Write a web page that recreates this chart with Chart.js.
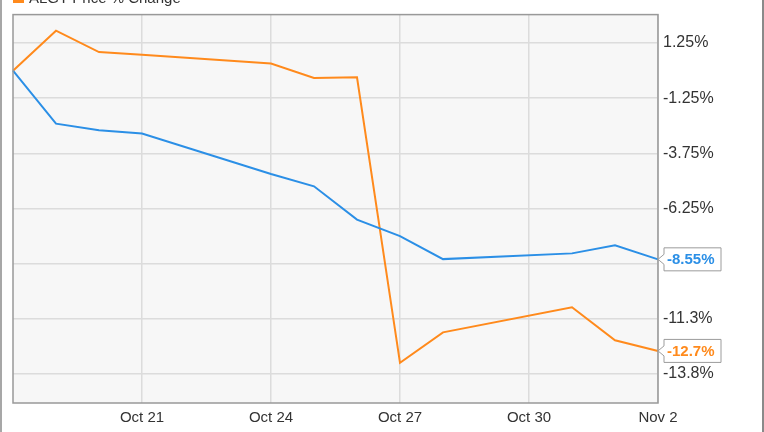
<!DOCTYPE html>
<html>
<head>
<meta charset="utf-8">
<script src="https://cdn.jsdelivr.net/npm/chart.js@4"></script>
<style>
html,body{margin:0;padding:0;background:#fff;}
canvas{display:block;}
</style>
</head>
<body>
<canvas id="c" width="764" height="432"></canvas>
<script>
// Calendar days on the x axis (weekends carry no value)
const dates = ['Oct 18','Oct 19','Oct 20','Oct 21','Oct 22','Oct 23','Oct 24','Oct 25','Oct 26','Oct 27','Oct 28','Oct 29','Oct 30','Oct 31','Nov 1','Nov 2'];
const xTickLabels = ['Oct 21','Oct 24','Oct 27','Oct 30','Nov 2'];

// % change series
const algtChange = [0, 1.81, 0.84, 0.72, null, null, 0.32, -0.33, -0.30, -13.24, -11.86, null, null, -10.72, -12.22, -12.70];
const peerChange = [0, -2.40, -2.70, -2.85, null, null, -4.68, -5.24, -6.75, -7.50, -8.54, null, null, -8.28, -7.91, -8.55];

// y axis ticks
const yTickValues = [1.25, -1.25, -3.75, -6.25, -8.75, -11.25, -13.75];
const yTickLabels = ['1.25%', '-1.25%', '-3.75%', '-6.25%', '', '-11.3%', '-13.8%'];
const lastLabels = ['-8.55%', '-12.7%'];

const legendText = 'ALGT Price % Change';
const BLUE = '#2b8fe6';
const ORANGE = '#ff8a1c';
const FONT = "'Liberation Sans', Arial, sans-serif";

const deco = {
  id: 'deco',
  beforeDraw(chart) {
    const {ctx, chartArea: a} = chart;
    ctx.save();
    ctx.fillStyle = '#f7f7f7';
    ctx.fillRect(a.left, a.top, a.right - a.left, a.bottom - a.top);
    ctx.restore();
  },
  afterDraw(chart) {
    const {ctx, chartArea: a} = chart;
    const ys = chart.scales.y;
    ctx.save();
    // plot border
    ctx.strokeStyle = '#999';
    ctx.lineWidth = 1.5;
    ctx.strokeRect(a.left, a.top, a.right - a.left, a.bottom - a.top);
    // outer frame lines
    ctx.strokeStyle = '#8a8a8a';
    ctx.lineWidth = 1.5;
    ctx.beginPath(); ctx.moveTo(1, 0); ctx.lineTo(1, 432); ctx.stroke();
    ctx.lineWidth = 2;
    ctx.beginPath(); ctx.moveTo(763, 0); ctx.lineTo(763, 432); ctx.stroke();
    // legend (cut off at the top)
    ctx.fillStyle = ORANGE;
    ctx.fillRect(13, -7, 11, 10);
    ctx.fillStyle = '#333';
    ctx.font = '15px ' + FONT;
    ctx.textAlign = 'left';
    ctx.textBaseline = 'alphabetic';
    ctx.fillText(legendText, 29, 2.5);
    // last value labels
    chart.data.datasets.forEach((ds, i) => {
      const v = ds.data[ds.data.length - 1];
      const y = ys.getPixelForValue(v);
      const tip = a.right;
      const left = tip + 6, right = left + 57, top = y - 11.5, bottom = y + 11.5;
      ctx.beginPath();
      ctx.moveTo(left, top);
      ctx.lineTo(right, top);
      ctx.lineTo(right, bottom);
      ctx.lineTo(left, bottom);
      ctx.lineTo(left, y + 5);
      ctx.lineTo(tip, y);
      ctx.lineTo(left, y - 5);
      ctx.closePath();
      ctx.fillStyle = '#fff';
      ctx.fill();
      ctx.strokeStyle = '#9c9c9c';
      ctx.lineWidth = 1;
      ctx.stroke();
      ctx.fillStyle = ds.borderColor;
      ctx.font = 'bold 15px ' + FONT;
      ctx.textBaseline = 'middle';
      ctx.fillText(lastLabels[i], left + 3, y + 1);
    });
    ctx.restore();
  }
};

new Chart(document.getElementById('c'), {
  type: 'line',
  data: {
    labels: dates,
    datasets: [
      { label: 'Peer', data: peerChange, borderColor: BLUE, borderWidth: 2, pointRadius: 0, spanGaps: true, tension: 0 },
      { label: 'ALGT', data: algtChange, borderColor: ORANGE, borderWidth: 2, pointRadius: 0, spanGaps: true, tension: 0 }
    ]
  },
  options: {
    responsive: false,
    animation: false,
    layout: { padding: { left: 13, top: 13, right: 0, bottom: 0 } },
    plugins: { legend: { display: false }, tooltip: { enabled: false } },
    scales: {
      x: {
        type: 'category',
        offset: false,
        border: { display: false },
        grid: {
          drawTicks: false,
          lineWidth: 1.5,
          color: (c) => (c.tick && xTickLabels.includes(dates[c.index])) ? '#dcdcdc' : 'rgba(0,0,0,0)'
        },
        ticks: {
          autoSkip: false, maxRotation: 0, minRotation: 0, padding: 6,
          color: '#333', font: { family: FONT, size: 15 },
          callback: (v, i) => xTickLabels.includes(dates[i]) ? dates[i] : ''
        },
        afterFit: (s) => { s.height = 29; }
      },
      y: {
        position: 'right',
        min: -15.06, max: 2.54,
        border: { display: false },
        grid: { drawTicks: false, color: '#dcdcdc', lineWidth: 1.5 },
        afterBuildTicks: (s) => { s.ticks = yTickValues.map(v => ({ value: v })); },
        ticks: {
          padding: 5, color: '#333', font: { family: FONT, size: 16 },
          callback: (v, i) => yTickLabels[i]
        },
        afterFit: (s) => { s.width = 106; }
      }
    }
  },
  plugins: [deco]
});
</script>
</body>
</html>
